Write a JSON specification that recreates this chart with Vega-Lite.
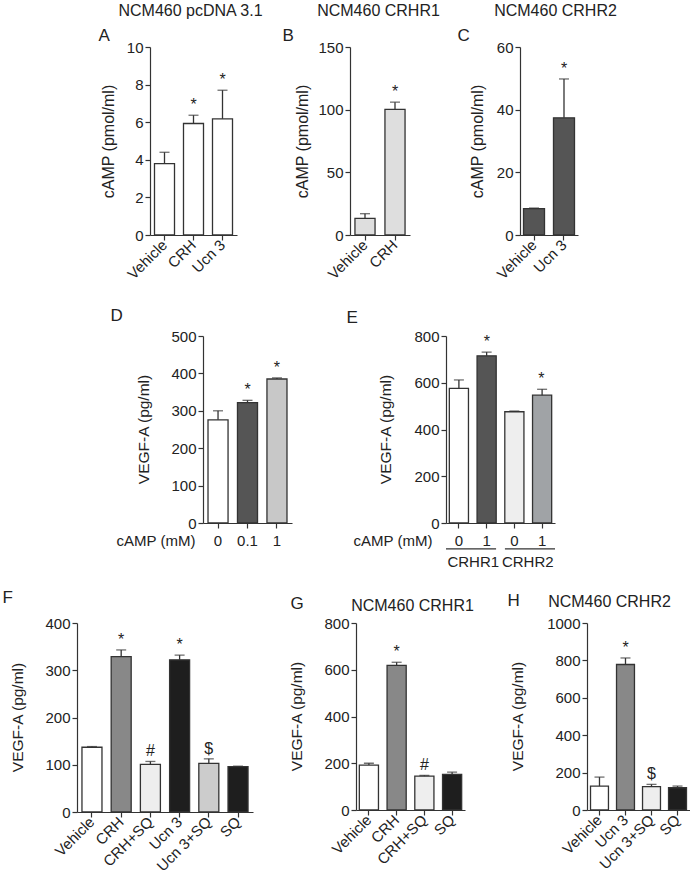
{
"$schema":"https://vega.github.io/schema/vega-lite/v6.json",
"padding":{"left":0,"top":2,"right":0,"bottom":0},
"autosize":{"type":"pad"},
"spacing":0,
"resolve":{"scale":{"fill":"independent"}},
"config":{
 "view":{"stroke":null},
 "font":"Liberation Sans",
 "axis":{"domainColor":"#333","domainWidth":1.2,"tickColor":"#333","tickWidth":1.2,"tickSize":5,"labelFont":"Liberation Sans","labelFontSize":15,"labelColor":"#222","labelOverlap":false,"titleFont":"Liberation Sans","titleFontSize":15.5,"titleFontWeight":"normal","titleColor":"#222","grid":false},
 "text":{"font":"Liberation Sans"}
},
"vconcat":[
 {"hconcat":[
  {"width":150,"height":259,"data":{"values":[]},"mark":"rule","encoding":{}},
  {"width":87,"height":188,
   "data":{"values":[{"g":"Vehicle","v":3.8,"hi":4.4,"m":""},{"g":"CRH","v":5.93,"hi":6.37,"m":"*"},{"g":"Ucn 3","v":6.18,"hi":7.7,"m":"*"}]},
   "resolve":{"axis":{"x":"independent"}},
   "layer":[
    {"mark":{"type":"bar","fill":"#ffffff","stroke":"#333","strokeWidth":1.3},
     "encoding":{
      "x":{"field":"g","type":"nominal","sort":null,"scale":{"paddingInner":0.31,"paddingOuter":0.155},"axis":{"title":null,"labelAngle":-45,"labelAlign":"right","labelBaseline":"middle","labelPadding":2}},
      "y":{"field":"v","type":"quantitative","scale":{"domain":[0,10],"nice":false},"axis":{"values":[0,2,4,6,8,10],"tickCount":12,"format":"d","title":"cAMP (pmol/ml)","titleX":-42,"titleY":94,"titleBaseline":"middle","titleFontSize":16}}}},
    {"mark":{"type":"rule","color":"#333","strokeWidth":1.3},
     "encoding":{"x":{"field":"g","type":"nominal","sort":null,"axis":{"orient":"top","domain":false,"ticks":false,"labels":false,"title":"A","titleX":-52,"titleY":-7,"titleAlign":"left","titleBaseline":"alphabetic","titleAngle":0,"titleFontSize":17}},"y":{"field":"v","type":"quantitative"},"y2":{"field":"hi"}}},
    {"mark":{"type":"tick","color":"#333","thickness":1.3,"size":10},
     "encoding":{"x":{"field":"g","type":"nominal","sort":null,"axis":{"orient":"top","domain":false,"ticks":false,"labels":false,"title":"NCM460 pcDNA 3.1","titleX":40,"titleY":-32,"titleAlign":"center","titleBaseline":"alphabetic","titleAngle":0,"titleFontSize":16}},"y":{"field":"hi","type":"quantitative"}}},
    {"mark":{"type":"text","dy":-5,"fontSize":16,"color":"#222","baseline":"alphabetic"},
     "encoding":{"x":{"field":"g","type":"nominal","sort":null,"axis":null},"y":{"field":"hi","type":"quantitative"},"text":{"field":"m"}}}
   ]},
  {"width":113,"height":1,"data":{"values":[]},"mark":"rule","encoding":{}},
  {"width":60,"height":188,
   "data":{"values":[{"g":"Vehicle","v":13.3,"hi":17,"m":""},{"g":"CRH","v":100.3,"hi":106,"m":"*"}]},
   "resolve":{"axis":{"x":"independent"}},
   "layer":[
    {"mark":{"type":"bar","fill":"#dedede","stroke":"#333","strokeWidth":1.3},
     "encoding":{
      "x":{"field":"g","type":"nominal","sort":null,"scale":{"paddingInner":0.33,"paddingOuter":0.165},"axis":{"title":null,"labelAngle":-45,"labelAlign":"right","labelBaseline":"middle","labelPadding":2}},
      "y":{"field":"v","type":"quantitative","scale":{"domain":[0,150],"nice":false},"axis":{"values":[0,50,100,150],"tickCount":12,"format":"d","title":"cAMP (pmol/ml)","titleX":-48,"titleY":94,"titleBaseline":"middle","titleFontSize":16}}}},
    {"mark":{"type":"rule","color":"#333","strokeWidth":1.3},
     "encoding":{"x":{"field":"g","type":"nominal","sort":null,"axis":{"orient":"top","domain":false,"ticks":false,"labels":false,"title":"B","titleX":-68,"titleY":-7,"titleAlign":"left","titleBaseline":"alphabetic","titleAngle":0,"titleFontSize":17}},"y":{"field":"v","type":"quantitative"},"y2":{"field":"hi"}}},
    {"mark":{"type":"tick","color":"#333","thickness":1.3,"size":10},
     "encoding":{"x":{"field":"g","type":"nominal","sort":null,"axis":{"orient":"top","domain":false,"ticks":false,"labels":false,"title":"NCM460 CRHR1","titleX":28,"titleY":-32,"titleAlign":"center","titleBaseline":"alphabetic","titleAngle":0,"titleFontSize":16}},"y":{"field":"hi","type":"quantitative"}}},
    {"mark":{"type":"text","dy":-5,"fontSize":16,"color":"#222","baseline":"alphabetic"},
     "encoding":{"x":{"field":"g","type":"nominal","sort":null,"axis":null},"y":{"field":"hi","type":"quantitative"},"text":{"field":"m"}}}
   ]},
  {"width":110,"height":1,"data":{"values":[]},"mark":"rule","encoding":{}},
  {"width":58,"height":188,
   "data":{"values":[{"g":"Vehicle","v":8.4,"hi":8.6,"m":""},{"g":"Ucn 3","v":37.4,"hi":49.8,"m":"*"}]},
   "resolve":{"axis":{"x":"independent"}},
   "layer":[
    {"mark":{"type":"bar","fill":"#555555","stroke":"#333","strokeWidth":1.3},
     "encoding":{
      "x":{"field":"g","type":"nominal","sort":null,"scale":{"paddingInner":0.3,"paddingOuter":0.117},"axis":{"title":null,"labelAngle":-45,"labelAlign":"right","labelBaseline":"middle","labelPadding":2}},
      "y":{"field":"v","type":"quantitative","scale":{"domain":[0,60],"nice":false},"axis":{"values":[0,20,40,60],"tickCount":12,"format":"d","title":"cAMP (pmol/ml)","titleX":-43,"titleY":94,"titleBaseline":"middle","titleFontSize":16}}}},
    {"mark":{"type":"rule","color":"#333","strokeWidth":1.3},
     "encoding":{"x":{"field":"g","type":"nominal","sort":null,"axis":{"orient":"top","domain":false,"ticks":false,"labels":false,"title":"C","titleX":-63,"titleY":-7,"titleAlign":"left","titleBaseline":"alphabetic","titleAngle":0,"titleFontSize":17}},"y":{"field":"v","type":"quantitative"},"y2":{"field":"hi"}}},
    {"mark":{"type":"tick","color":"#333","thickness":1.3,"size":10},
     "encoding":{"x":{"field":"g","type":"nominal","sort":null,"axis":{"orient":"top","domain":false,"ticks":false,"labels":false,"title":"NCM460 CRHR2","titleX":35,"titleY":-32,"titleAlign":"center","titleBaseline":"alphabetic","titleAngle":0,"titleFontSize":16}},"y":{"field":"hi","type":"quantitative"}}},
    {"mark":{"type":"text","dy":-5,"fontSize":16,"color":"#222","baseline":"alphabetic"},
     "encoding":{"x":{"field":"g","type":"nominal","sort":null,"axis":null},"y":{"field":"hi","type":"quantitative"},"text":{"field":"m"}}}
   ]}
 ],"spacing":0,"bounds":"flush","resolve":{"scale":{"fill":"independent"}}},

 {"hconcat":[
  {"width":203,"height":252,"data":{"values":[]},"mark":"rule","encoding":{}},
  {"width":89,"height":187,
   "data":{"values":[{"g":"0","v":276,"hi":300,"m":""},{"g":"0.1","v":322,"hi":328,"m":"*"},{"g":"1","v":385,"hi":388,"m":"*"}]},
   "resolve":{"axis":{"x":"independent"}},
   "layer":[
    {"mark":{"type":"bar","stroke":"#333","strokeWidth":1.3},
     "encoding":{
      "x":{"field":"g","type":"nominal","sort":null,"scale":{"paddingInner":0.32,"paddingOuter":0.17},"axis":{"title":"cAMP (mM)","titleX":-8,"titleY":22,"titleAlign":"right","titleBaseline":"alphabetic","titleAngle":0,"titleFontSize":15,"labelAngle":0,"labelAlign":"center","labelBaseline":"top","labelPadding":5}},
      "y":{"field":"v","type":"quantitative","scale":{"domain":[0,500],"nice":false},"axis":{"values":[0,100,200,300,400,500],"tickCount":12,"format":"d","title":"VEGF-A (pg/ml)","titleX":-60,"titleY":93,"titleBaseline":"middle"}},
      "fill":{"field":"g","type":"nominal","sort":null,"scale":{"domain":["0","0.1","1"],"range":["#ffffff","#555555","#c8c8c8"]},"legend":null}}},
    {"mark":{"type":"rule","color":"#333","strokeWidth":1.3},
     "encoding":{"x":{"field":"g","type":"nominal","sort":null,"axis":{"orient":"top","domain":false,"ticks":false,"labels":false,"title":"D","titleX":-93,"titleY":-16,"titleAlign":"left","titleBaseline":"alphabetic","titleAngle":0,"titleFontSize":17}},"y":{"field":"v","type":"quantitative"},"y2":{"field":"hi"}}},
    {"mark":{"type":"tick","color":"#333","thickness":1.3,"size":10},
     "encoding":{"x":{"field":"g","type":"nominal","sort":null,"axis":null},"y":{"field":"hi","type":"quantitative"}}},
    {"mark":{"type":"text","dy":-5,"fontSize":16,"color":"#222","baseline":"alphabetic"},
     "encoding":{"x":{"field":"g","type":"nominal","sort":null,"axis":null},"y":{"field":"hi","type":"quantitative"},"text":{"field":"m"}}}
   ]},
  {"width":154,"height":1,"data":{"values":[]},"mark":"rule","encoding":{}},
  {"width":109,"height":187,
   "data":{"values":[{"k":"CRHR1 0","v":576,"hi":612,"m":""},{"k":"CRHR1 1","v":715,"hi":731,"m":"*"},{"k":"CRHR2 0","v":476,"hi":479,"m":""},{"k":"CRHR2 1","v":547,"hi":572,"m":"*"}]},
   "resolve":{"scale":{"x":"independent"},"axis":{"x":"independent"}},
   "layer":[
    {"mark":{"type":"bar","stroke":"#333","strokeWidth":1.3},
     "encoding":{
      "x":{"field":"k","type":"nominal","sort":null,"scale":{"paddingInner":0.31,"paddingOuter":0.12},"axis":{"title":"cAMP (mM)","titleX":-14,"titleY":22,"titleAlign":"right","titleBaseline":"alphabetic","titleAngle":0,"titleFontSize":15,"labelAngle":0,"labelAlign":"center","labelBaseline":"top","labelPadding":5,"labelExpr":"split(datum.label,' ')[1]"}},
      "y":{"field":"v","type":"quantitative","scale":{"domain":[0,800],"nice":false},"axis":{"values":[0,200,400,600,800],"tickCount":12,"format":"d","title":"VEGF-A (pg/ml)","titleX":-61,"titleY":93,"titleBaseline":"middle"}},
      "fill":{"field":"k","type":"nominal","sort":null,"scale":{"domain":["CRHR1 0","CRHR1 1","CRHR2 0","CRHR2 1"],"range":["#ffffff","#555555","#eeeeee","#a0a3a6"]},"legend":null}}},
    {"mark":{"type":"rule","color":"#333","strokeWidth":1.3},
     "encoding":{"x":{"field":"k","type":"nominal","sort":null,"scale":{"paddingInner":0.31,"paddingOuter":0.12},"axis":{"orient":"top","domain":false,"ticks":false,"labels":false,"title":"E","titleX":-100,"titleY":-14,"titleAlign":"left","titleBaseline":"alphabetic","titleAngle":0,"titleFontSize":17}},"y":{"field":"v","type":"quantitative"},"y2":{"field":"hi"}}},
    {"mark":{"type":"tick","color":"#333","thickness":1.3,"size":10},
     "encoding":{"x":{"field":"k","type":"nominal","sort":null,"scale":{"paddingInner":0.31,"paddingOuter":0.12},"axis":null},"y":{"field":"hi","type":"quantitative"}}},
    {"mark":{"type":"text","dy":-5,"fontSize":16,"color":"#222","baseline":"alphabetic"},
     "encoding":{"x":{"field":"k","type":"nominal","sort":null,"scale":{"paddingInner":0.31,"paddingOuter":0.12},"axis":null},"y":{"field":"hi","type":"quantitative"},"text":{"field":"m"}}},
    {"data":{"values":[{"r":"CRHR1"},{"r":"CRHR2"}]},
     "mark":{"type":"bar","color":"#333","clip":false},
     "encoding":{"x":{"field":"r","type":"nominal","sort":null,"scale":{"paddingInner":0.15,"paddingOuter":0},"axis":null},"y":{"datum":-108},"y2":{"datum":-113}}},
    {"data":{"values":[{"r":"CRHR1"},{"r":"CRHR2"}]},
     "mark":{"type":"text","fontSize":15,"color":"#222","baseline":"top"},
     "encoding":{"x":{"field":"r","type":"nominal","sort":null,"scale":{"paddingInner":0.15,"paddingOuter":0},"axis":null},"y":{"datum":-138},"text":{"field":"r"}}}
   ]}
 ],"spacing":0,"bounds":"flush","resolve":{"scale":{"fill":"independent"}}},

 {"hconcat":[
  {"width":77,"height":250,"data":{"values":[]},"mark":"rule","encoding":{}},
  {"width":176,"height":189,
   "data":{"values":[{"g":"Vehicle","v":137,"hi":138.5,"m":""},{"g":"CRH","v":329,"hi":343,"m":"*"},{"g":"CRH+SQ","v":101,"hi":107,"m":"#"},{"g":"Ucn 3","v":322,"hi":332,"m":"*"},{"g":"Ucn 3+SQ","v":103,"hi":112.5,"m":"$"},{"g":"SQ","v":96,"hi":97,"m":""}]},
   "resolve":{"axis":{"x":"independent"}},
   "layer":[
    {"mark":{"type":"bar","stroke":"#333","strokeWidth":1.3},
     "encoding":{
      "x":{"field":"g","type":"nominal","sort":null,"scale":{"paddingInner":0.315,"paddingOuter":0.17},"axis":{"title":null,"labelAngle":-45,"labelAlign":"right","labelBaseline":"middle","labelPadding":2}},
      "y":{"field":"v","type":"quantitative","scale":{"domain":[0,400],"nice":false},"axis":{"values":[0,100,200,300,400],"tickCount":12,"format":"d","title":"VEGF-A (pg/ml)","titleX":-60,"titleY":94,"titleBaseline":"middle"}},
      "fill":{"field":"g","type":"nominal","sort":null,"scale":{"domain":["Vehicle","CRH","CRH+SQ","Ucn 3","Ucn 3+SQ","SQ"],"range":["#ffffff","#888888","#eeeeee","#1e1e1e","#cccccc","#1e1e1e"]},"legend":null}}},
    {"mark":{"type":"rule","color":"#333","strokeWidth":1.3},
     "encoding":{"x":{"field":"g","type":"nominal","sort":null,"axis":{"orient":"top","domain":false,"ticks":false,"labels":false,"title":"F","titleX":-75,"titleY":-21,"titleAlign":"left","titleBaseline":"alphabetic","titleAngle":0,"titleFontSize":17}},"y":{"field":"v","type":"quantitative"},"y2":{"field":"hi"}}},
    {"mark":{"type":"tick","color":"#333","thickness":1.3,"size":10},
     "encoding":{"x":{"field":"g","type":"nominal","sort":null,"axis":null},"y":{"field":"hi","type":"quantitative"}}},
    {"mark":{"type":"text","dy":-5,"fontSize":16,"color":"#222","baseline":"alphabetic"},
     "encoding":{"x":{"field":"g","type":"nominal","sort":null,"axis":null},"y":{"field":"hi","type":"quantitative"},"text":{"field":"m"}}}
   ]},
  {"width":103,"height":1,"data":{"values":[]},"mark":"rule","encoding":{}},
  {"width":109,"height":187,
   "data":{"values":[{"g":"Vehicle","v":192,"hi":200,"m":""},{"g":"CRH","v":619,"hi":632,"m":"*"},{"g":"CRH+SQ","v":145,"hi":148,"m":"#"},{"g":"SQ","v":152,"hi":162,"m":""}]},
   "resolve":{"axis":{"x":"independent"}},
   "layer":[
    {"mark":{"type":"bar","stroke":"#333","strokeWidth":1.3},
     "encoding":{
      "x":{"field":"g","type":"nominal","sort":null,"scale":{"paddingInner":0.31,"paddingOuter":0.12},"axis":{"title":null,"labelAngle":-45,"labelAlign":"right","labelBaseline":"middle","labelPadding":2}},
      "y":{"field":"v","type":"quantitative","scale":{"domain":[0,800],"nice":false},"axis":{"values":[0,200,400,600,800],"tickCount":12,"format":"d","title":"VEGF-A (pg/ml)","titleX":-60,"titleY":93,"titleBaseline":"middle"}},
      "fill":{"field":"g","type":"nominal","sort":null,"scale":{"domain":["Vehicle","CRH","CRH+SQ","SQ"],"range":["#ffffff","#888888","#eeeeee","#1e1e1e"]},"legend":null}}},
    {"mark":{"type":"rule","color":"#333","strokeWidth":1.3},
     "encoding":{"x":{"field":"g","type":"nominal","sort":null,"axis":{"orient":"top","domain":false,"ticks":false,"labels":false,"title":"G","titleX":-66,"titleY":-15,"titleAlign":"left","titleBaseline":"alphabetic","titleAngle":0,"titleFontSize":17}},"y":{"field":"v","type":"quantitative"},"y2":{"field":"hi"}}},
    {"mark":{"type":"tick","color":"#333","thickness":1.3,"size":10},
     "encoding":{"x":{"field":"g","type":"nominal","sort":null,"axis":{"orient":"top","domain":false,"ticks":false,"labels":false,"title":"NCM460 CRHR1","titleX":56,"titleY":-13,"titleAlign":"center","titleBaseline":"alphabetic","titleAngle":0,"titleFontSize":16}},"y":{"field":"hi","type":"quantitative"}}},
    {"mark":{"type":"text","dy":-5,"fontSize":16,"color":"#222","baseline":"alphabetic"},
     "encoding":{"x":{"field":"g","type":"nominal","sort":null,"axis":null},"y":{"field":"hi","type":"quantitative"},"text":{"field":"m"}}}
   ]},
  {"width":122,"height":1,"data":{"values":[]},"mark":"rule","encoding":{}},
  {"width":103,"height":187,
   "data":{"values":[{"g":"Vehicle","v":128,"hi":176,"m":""},{"g":"Ucn 3","v":778,"hi":813,"m":"*"},{"g":"Ucn 3+SQ","v":125,"hi":137,"m":"$"},{"g":"SQ","v":119,"hi":128,"m":""}]},
   "resolve":{"axis":{"x":"independent"}},
   "layer":[
    {"mark":{"type":"bar","stroke":"#333","strokeWidth":1.3},
     "encoding":{
      "x":{"field":"g","type":"nominal","sort":null,"scale":{"paddingInner":0.31,"paddingOuter":0.135},"axis":{"title":null,"labelAngle":-45,"labelAlign":"right","labelBaseline":"middle","labelPadding":2}},
      "y":{"field":"v","type":"quantitative","scale":{"domain":[0,1000],"nice":false},"axis":{"values":[0,200,400,600,800,1000],"tickCount":12,"format":"d","title":"VEGF-A (pg/ml)","titleX":-70,"titleY":93,"titleBaseline":"middle"}},
      "fill":{"field":"g","type":"nominal","sort":null,"scale":{"domain":["Vehicle","Ucn 3","Ucn 3+SQ","SQ"],"range":["#ffffff","#888888","#eeeeee","#1e1e1e"]},"legend":null}}},
    {"mark":{"type":"rule","color":"#333","strokeWidth":1.3},
     "encoding":{"x":{"field":"g","type":"nominal","sort":null,"axis":{"orient":"top","domain":false,"ticks":false,"labels":false,"title":"H","titleX":-80,"titleY":-18,"titleAlign":"left","titleBaseline":"alphabetic","titleAngle":0,"titleFontSize":17}},"y":{"field":"v","type":"quantitative"},"y2":{"field":"hi"}}},
    {"mark":{"type":"tick","color":"#333","thickness":1.3,"size":10},
     "encoding":{"x":{"field":"g","type":"nominal","sort":null,"axis":{"orient":"top","domain":false,"ticks":false,"labels":false,"title":"NCM460 CRHR2","titleX":22,"titleY":-17,"titleAlign":"center","titleBaseline":"alphabetic","titleAngle":0,"titleFontSize":16}},"y":{"field":"hi","type":"quantitative"}}},
    {"mark":{"type":"text","dy":-5,"fontSize":16,"color":"#222","baseline":"alphabetic"},
     "encoding":{"x":{"field":"g","type":"nominal","sort":null,"axis":null},"y":{"field":"hi","type":"quantitative"},"text":{"field":"m"}}}
   ]}
 ],"spacing":0,"bounds":"flush","resolve":{"scale":{"fill":"independent"}}}
]
}
